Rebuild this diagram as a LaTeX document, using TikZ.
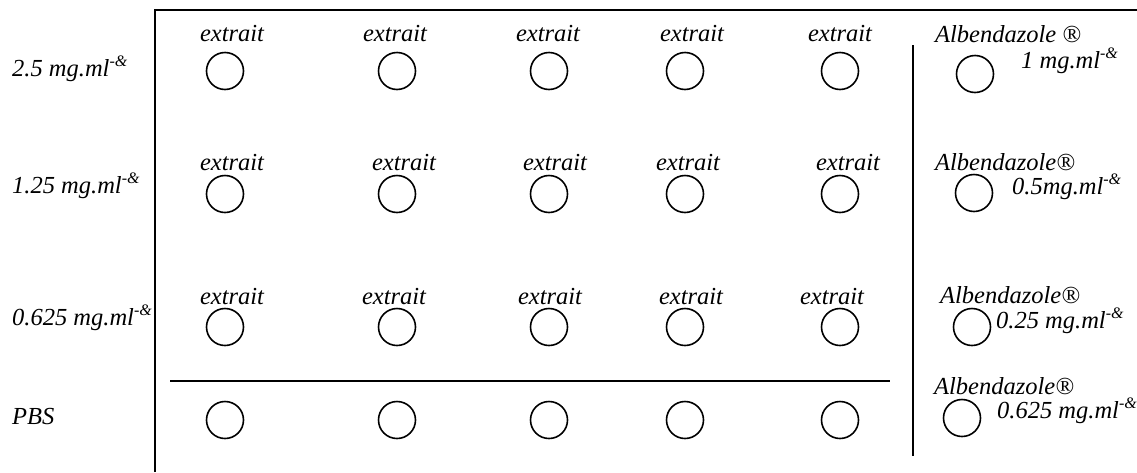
\documentclass[tikz,border=0pt]{standalone}
\usepackage{fontspec}
\setmainfont{Liberation Serif}
\newcommand{\permil}{\raisebox{0.42em}{\fontsize{16}{16}\selectfont -\&}}
\begin{document}
\begin{tikzpicture}[x=1pt,y=-1pt,
  well/.style={circle,draw,line width=1.6pt,minimum size=37pt,inner sep=0pt},
  lbl/.style={font=\fontsize{24.5}{28}\selectfont\itshape,inner sep=0pt},
  frame/.style={line width=2.2pt},
  divider/.style={line width=1.8pt}]
\useasboundingbox (0,0) rectangle (1137,472);

% plate outline and dividers
\draw[frame] (155,472) -- (155,10) -- (1137,10);
\coordinate (v1) at (913,45);
\coordinate (v2) at (913,456);
\draw[divider] (v1) -- (v2);
\coordinate (h1) at (170,381);
\coordinate (h2) at (890,381);
\draw[divider] (h1) -- (h2);

% row labels
\node[lbl,anchor=west] (r1) at (12,69) {2.5 mg.ml\permil};
\node[lbl,anchor=west] (r2) at (12,186) {1.25 mg.ml\permil};
\node[lbl,anchor=west] (r3) at (12,318) {0.625 mg.ml\permil};
\node[lbl,anchor=west] (r4) at (12,416) {PBS};

% wells: extract rows and PBS row
\foreach \c/\x in {1/225,2/397,3/549,4/685,5/840}{
  \node[well] (a\c) at (\x,71) {};
  \node[well] (b\c) at (\x,194) {};
  \node[well] (c\c) at (\x,327) {};
  \node[well] (d\c) at (\x,420) {};
}
\foreach \c/\x in {1/232,2/395,3/548,4/692,5/840}
  \node[lbl] (ea\c) at (\x,34) {extrait};
\foreach \c/\x in {1/232,2/404,3/555,4/688,5/848}
  \node[lbl] (eb\c) at (\x,163) {extrait};
\foreach \c/\x in {1/232,2/394,3/550,4/691,5/832}
  \node[lbl] (ec\c) at (\x,297) {extrait};

% reference drug wells
\node[well] (ra) at (975,74) {};
\node[well] (rb) at (974,193) {};
\node[well] (rc) at (972,327) {};
\node[well] (rd) at (962,418) {};
\node[lbl,anchor=west] (ta) at (935,34) {Albendazole ®};
\node[lbl,anchor=west] (ca) at (1021,61) {1 mg.ml\permil};
\node[lbl,anchor=west] (tb) at (935,162) {Albendazole®};
\node[lbl,anchor=west] (cb) at (1012,187) {0.5mg.ml\permil};
\node[lbl,anchor=west] (tc) at (940,295) {Albendazole®};
\node[lbl,anchor=west] (cc) at (996,321) {0.25 mg.ml\permil};
\node[lbl,anchor=west] (td) at (934,386) {Albendazole®};
\node[lbl,anchor=west] (cd) at (997,411) {0.625 mg.ml\permil};
\end{tikzpicture}
\end{document}
